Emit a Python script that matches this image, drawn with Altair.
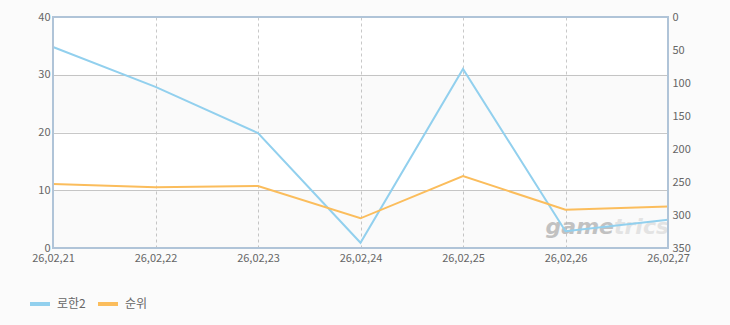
import altair as alt
import pandas as pd

dates = ["26,02,21", "26,02,22", "26,02,23", "26,02,24", "26,02,25", "26,02,26", "26,02,27"]
share = [34.8, 27.9, 19.9, 0.9, 31.0, 2.9, 4.9]          # 로한2 (left axis)
rank = [253, 258, 256, 305, 241, 292, 287]              # 순위 (right axis, reversed)
band_lo = [20, 0]
band_hi = [30, 10]

df = pd.DataFrame({"date": dates, "로한2": share, "순위": rank})
bands = pd.DataFrame({"lo": band_lo, "hi": band_hi})

FONT = "Noto Sans CJK KR"
LABEL = "#666666"
GRID = "#c8c8c8"

xenc = alt.X("date:N", sort=dates, scale=alt.Scale(type="point", padding=0),
             axis=alt.Axis(title=None, labelAngle=0, domain=False, ticks=False,
                           grid=True, gridColor=GRID, gridDash=[3, 3], gridWidth=1,
                           labelFont=FONT, labelFontSize=11, labelColor=LABEL,
                           labelPadding=4))

yleft_axis = alt.Axis(title=None, values=[0, 10, 20, 30, 40], domain=False, ticks=False,
                      grid=True, gridColor=GRID, gridWidth=1,
                      labelFont=FONT, labelFontSize=11, labelColor=LABEL,
                      labelPadding=3)

color = alt.Color("series:N",
                  scale=alt.Scale(domain=["로한2", "순위"], range=["#92d0ee", "#fbbd5c"]),
                  legend=alt.Legend(title=None, orient="none", direction="horizontal",
                                    legendX=-25, legendY=275, symbolType="stroke",
                                    symbolStrokeWidth=4, symbolSize=400,
                                    labelFont=FONT, labelFontSize=12, labelColor=LABEL,
                                    columnPadding=4, labelOffset=5))

band_layer = alt.Chart(bands).mark_rect(color="#000000", opacity=0.018).encode(
    y=alt.Y("hi:Q", scale=alt.Scale(domain=[0, 40]), axis=yleft_axis),
    y2="lo:Q",
    x=alt.value(0), x2=alt.value(615),
)

share_df = df[["date", "로한2"]].rename(columns={"로한2": "v"}).assign(series="로한2")
rank_df = df[["date", "순위"]].rename(columns={"순위": "v"}).assign(series="순위")

blue = alt.Chart(share_df).mark_line(strokeWidth=2).encode(
    x=xenc,
    y=alt.Y("v:Q", scale=alt.Scale(domain=[0, 40]), axis=yleft_axis),
    color=color,
)

orange = alt.Chart(rank_df).mark_line(strokeWidth=2).encode(
    x=xenc,
    y=alt.Y("v:Q", scale=alt.Scale(domain=[0, 350], reverse=True),
            axis=alt.Axis(title=None, orient="right", values=[0, 50, 100, 150, 200, 250, 300, 350],
                          domain=False, ticks=False, grid=False,
                          labelFont=FONT, labelFontSize=11, labelColor=LABEL,
                          labelPadding=4)),
    color=color,
)

wm1 = alt.Chart(pd.DataFrame({"t": ["game"]})).mark_text(
    font="DejaVu Sans", fontSize=22, fontStyle="italic", fontWeight="bold",
    color="#b4b4b4", align="right", baseline="alphabetic", opacity=0.8
).encode(text="t:N", x=alt.value(561), y=alt.value(217))
wm2 = alt.Chart(pd.DataFrame({"t": ["trics"]})).mark_text(
    font="DejaVu Sans", fontSize=22, fontStyle="italic", fontWeight="bold",
    color="#dedede", align="left", baseline="alphabetic", opacity=0.8
).encode(text="t:N", x=alt.value(561), y=alt.value(217))

border = alt.Chart(pd.DataFrame({"k": [0]})).mark_rect(
    fill=None, fillOpacity=0, stroke="#b0c4d8", strokeWidth=2
).encode(x=alt.value(0), x2=alt.value(615), y=alt.value(0), y2=alt.value(231))

chart = alt.layer(
    alt.layer(band_layer, wm1, wm2, blue),
    orange,
    border,
).resolve_scale(y="independent").properties(
    width=615, height=231,
    autosize=alt.AutoSizeParams(type="none"),
    padding={"left": 53, "top": 17, "right": 62, "bottom": 77},
    background="#fbfbfb",
).configure_view(
    fill="white", stroke=None
)

chart.save("out.html", embed_options={"renderer": "svg", "actions": False})
